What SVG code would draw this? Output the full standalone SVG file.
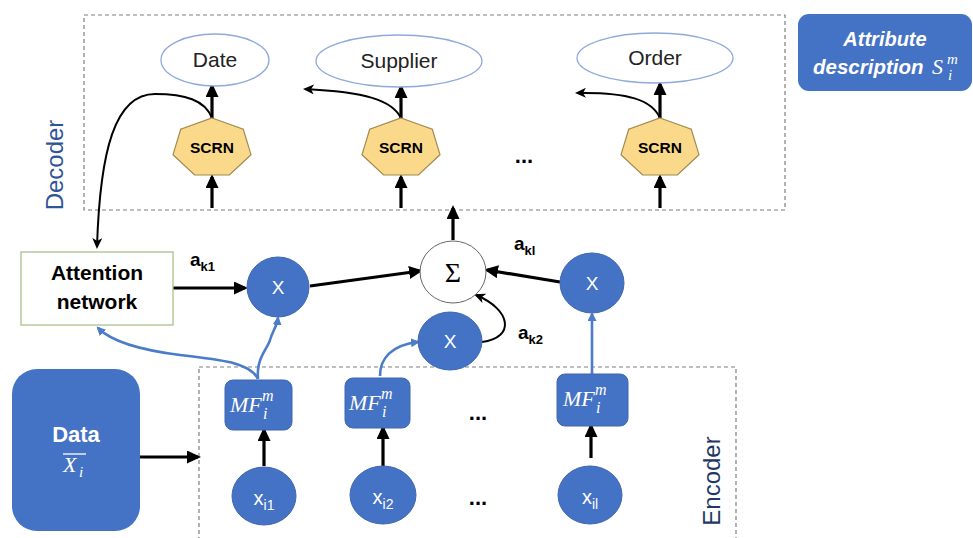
<svg xmlns="http://www.w3.org/2000/svg" width="973" height="538" viewBox="0 0 973 538">
  <style>
    .frame { fill: none; stroke: #7f7f7f; stroke-width: 1.2; stroke-dasharray: 4 3; }
    .oval { fill: #fff; stroke: #8eaadb; stroke-width: 1.3; }
    .scrn { fill: #fbd98a; stroke: #a18a4f; stroke-width: 1.2; }
    .blue { fill: #4472c4; stroke: #3f67b1; stroke-width: 1; }
    .thick { fill: none; stroke: #000; stroke-width: 3.2; marker-end: url(#headBig); }
    .thin { fill: none; stroke: #000; stroke-width: 2; marker-end: url(#headThin); }
    .bl { fill: none; stroke: #4a7cc9; stroke-width: 2.6; marker-end: url(#headBlue); }
    .sans { font-family: "Liberation Sans", "Noto Sans", sans-serif; }
    .math { font-family: "Liberation Serif", "DejaVu Serif", serif; font-style: italic; }
    .lbl { font-family: "Liberation Sans", sans-serif; font-size: 21px; fill: #222; text-anchor: middle; }
    .wt { fill: #fff; }
    .side { font-family: "Liberation Sans", sans-serif; font-size: 24px; text-anchor: middle; }
  </style>
  <defs>
    <marker id="headBig" markerUnits="userSpaceOnUse" markerWidth="16" markerHeight="14" refX="11" refY="6.5" orient="auto">
      <path d="M0,0 L14,6.5 L0,13 Z" fill="#000"/>
    </marker>
    <marker id="headThin" markerUnits="userSpaceOnUse" markerWidth="12" markerHeight="11" refX="9" refY="5" orient="auto">
      <path d="M0,0 L11,5 L0,10 L3,5 Z" fill="#000"/>
    </marker>
    <marker id="headBlue" markerUnits="userSpaceOnUse" markerWidth="10" markerHeight="10" refX="7" refY="4.5" orient="auto">
      <path d="M0,0 L9,4.5 L0,9 Z" fill="#4a7cc9"/>
    </marker>
    <polygon id="hept" points="0,-30 31.3,-18.7 39,6.7 17.4,27 -17.4,27 -39,6.7 -31.3,-18.7"/>
  </defs>

  <rect width="973" height="538" fill="#fff"/>

  <!-- dashed frames -->
  <rect class="frame" x="84" y="15" width="701" height="195"/>
  <rect class="frame" x="199" y="367" width="537" height="180"/>
  <text class="side" fill="#2f5597" transform="translate(63,165) rotate(-90)">Decoder</text>
  <text class="side" fill="#1f3864" transform="translate(720,481) rotate(-90)">Encoder</text>

  <!-- connectors -->
  <g id="connectors">
    <line class="thick" x1="212" y1="118" x2="212" y2="86"/>
    <line class="thick" x1="401" y1="118" x2="401" y2="87"/>
    <line class="thick" x1="660" y1="118" x2="660" y2="84"/>
    <line class="thick" x1="212" y1="208" x2="212" y2="177"/>
    <line class="thick" x1="401" y1="208" x2="401" y2="177"/>
    <line class="thick" x1="660" y1="208" x2="660" y2="177"/>
    <path class="thin" d="M212,118 C205,100 185,94 155,94 C115,94 100,150 97,247"/>
    <path class="thin" d="M401,118 C392,100 365,92 305,89"/>
    <path class="thin" d="M660,118 C652,100 628,92 577,93"/>
    <line class="thick" x1="453" y1="240" x2="453" y2="208"/>
    <line class="thick" x1="173" y1="288" x2="245" y2="288"/>
    <line class="thick" x1="310" y1="286" x2="420" y2="271"/>
    <line class="thick" x1="560" y1="282" x2="487" y2="270"/>
    <path class="thin" d="M482,342 C515,338 512,310 476,295"/>
    <line class="thick" x1="140" y1="457" x2="198" y2="457"/>
    <line class="thick" x1="264" y1="466" x2="264" y2="430"/>
    <line class="thick" x1="383" y1="466" x2="383" y2="428"/>
    <line class="thick" x1="591" y1="458" x2="591" y2="426"/>
    <path class="bl" d="M258,379 C250,362 220,360 180,355 C140,350 112,342 98,328"/>
    <path class="bl" d="M258,379 C256,358 268,348 270,340 C273,330 277,326 278,318"/>
    <path class="bl" d="M380,376 C380,358 392,345 418,342"/>
    <line class="bl" x1="592" y1="374" x2="592" y2="314"/>
  </g>

  <!-- decoder outputs -->
  <g id="date"><ellipse class="oval" cx="215" cy="60" rx="54" ry="26"/><text class="lbl" x="215" y="67">Date</text></g>
  <g id="supplier"><ellipse class="oval" cx="399" cy="61" rx="83" ry="26"/><text class="lbl" x="399" y="68">Supplier</text></g>
  <g id="order"><ellipse class="oval" cx="655" cy="58" rx="78" ry="25"/><text class="lbl" x="655" y="65">Order</text></g>

  <!-- recurrent cells -->
  <g id="scrn1"><use href="#hept" class="scrn" x="212" y="148"/><text class="sans" x="212" y="153" font-size="15.5" font-weight="bold" text-anchor="middle">SCRN</text></g>
  <g id="scrn2"><use href="#hept" class="scrn" x="401" y="148"/><text class="sans" x="401" y="153" font-size="15.5" font-weight="bold" text-anchor="middle">SCRN</text></g>
  <g id="scrn3"><use href="#hept" class="scrn" x="660" y="148"/><text class="sans" x="660" y="153" font-size="15.5" font-weight="bold" text-anchor="middle">SCRN</text></g>
  <text class="sans" x="524" y="163" font-size="22" font-weight="bold" text-anchor="middle">...</text>

  <!-- legend -->
  <g id="attr-desc">
    <rect x="798" y="14" width="174" height="77" rx="11" fill="#4472c4"/>
    <text class="sans wt" x="885" y="46" font-size="20" font-weight="bold" font-style="italic" text-anchor="middle">Attribute</text>
    <text class="sans wt" x="813" y="74" font-size="20.5" font-weight="bold" font-style="italic">description</text>
    <text class="math wt" x="932" y="74" font-size="22">S</text>
    <text class="math wt" x="948" y="80" font-size="15">i</text>
    <text class="math wt" x="947" y="64" font-size="15">m</text>
  </g>

  <!-- attention -->
  <g id="attention">
    <rect x="21" y="252" width="152" height="73" fill="#fff" stroke="#a9c08a" stroke-width="1.3"/>
    <text class="sans" x="97" y="280" font-size="21" font-weight="bold" text-anchor="middle">Attention</text>
    <text class="sans" x="97" y="309" font-size="21" font-weight="bold" text-anchor="middle">network</text>
  </g>
  <text class="sans" x="190" y="266" font-size="19" font-weight="bold">a<tspan font-size="13" dy="5">k1</tspan></text>
  <text class="sans" x="514" y="250" font-size="19" font-weight="bold">a<tspan font-size="13" dy="5">kl</tspan></text>
  <text class="sans" x="518" y="339" font-size="19" font-weight="bold">a<tspan font-size="13" dy="5">k2</tspan></text>

  <!-- weighting and sum -->
  <g id="mul1"><ellipse class="blue" cx="278" cy="287" rx="31" ry="30"/><text class="sans wt" x="278" y="294" font-size="19" text-anchor="middle">X</text></g>
  <g id="mul2"><ellipse class="blue" cx="450" cy="341" rx="32" ry="29"/><text class="sans wt" x="450" y="348" font-size="19" text-anchor="middle">X</text></g>
  <g id="mul3"><ellipse class="blue" cx="592" cy="283" rx="32" ry="30"/><text class="sans wt" x="592" y="290" font-size="19" text-anchor="middle">X</text></g>
  <g id="sum"><ellipse cx="453" cy="272" rx="33" ry="31" fill="#fff" stroke="#666" stroke-width="1"/><text x="453" y="282" font-family="Liberation Serif, serif" font-size="28" text-anchor="middle">Σ</text></g>

  <!-- input data -->
  <g id="data">
    <rect x="12" y="369" width="128" height="162" rx="25" fill="#4472c4"/>
    <text class="sans wt" x="76" y="442" font-size="22" font-weight="bold" text-anchor="middle">Data</text>
    <line x1="63" y1="454" x2="86" y2="454" stroke="#fff" stroke-width="1.3"/>
    <text class="math wt" x="63" y="472" font-size="22">X</text>
    <text class="math wt" x="79" y="477" font-size="15">i</text>
  </g>

  <!-- encoder features -->
  <g id="mf1">
    <rect class="blue" x="225" y="380" width="67" height="50" rx="8"/>
    <text class="math wt" x="230" y="412" font-size="22">MF</text>
    <text class="math wt" x="262" y="401" font-size="16">m</text>
    <text class="math wt" x="263" y="419" font-size="16">i</text>
  </g>
  <g id="mf2">
    <rect class="blue" x="345" y="378" width="65" height="50" rx="8"/>
    <text class="math wt" x="349" y="410" font-size="22">MF</text>
    <text class="math wt" x="381" y="399" font-size="16">m</text>
    <text class="math wt" x="382" y="417" font-size="16">i</text>
  </g>
  <g id="mf3">
    <rect class="blue" x="557" y="374" width="71" height="52" rx="8"/>
    <text class="math wt" x="563" y="406" font-size="22">MF</text>
    <text class="math wt" x="595" y="395" font-size="16">m</text>
    <text class="math wt" x="596" y="413" font-size="16">i</text>
  </g>
  <text class="sans" x="478" y="420" font-size="22" font-weight="bold" text-anchor="middle">...</text>

  <!-- encoder inputs -->
  <g id="x1"><ellipse class="blue" cx="264" cy="496" rx="32" ry="29"/><text class="sans wt" x="264" y="505" font-size="20" text-anchor="middle">x<tspan font-size="14" dy="5">i1</tspan></text></g>
  <g id="x2"><ellipse class="blue" cx="383" cy="495" rx="33" ry="29"/><text class="sans wt" x="383" y="504" font-size="20" text-anchor="middle">x<tspan font-size="14" dy="5">i2</tspan></text></g>
  <g id="xl"><ellipse class="blue" cx="590" cy="495" rx="32" ry="29"/><text class="sans wt" x="590" y="504" font-size="20" text-anchor="middle">x<tspan font-size="14" dy="5">il</tspan></text></g>
  <text class="sans" x="478" y="505" font-size="22" font-weight="bold" text-anchor="middle">...</text>
</svg>
